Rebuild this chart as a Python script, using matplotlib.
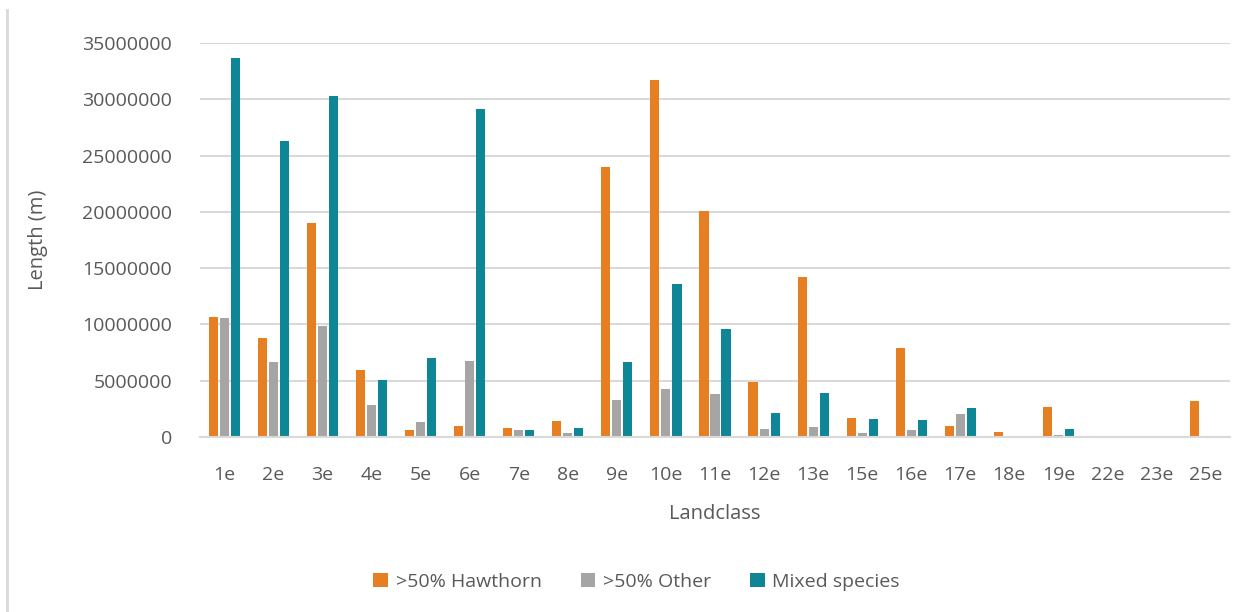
import matplotlib
matplotlib.use("Agg")
import matplotlib.pyplot as plt
import numpy as np
from matplotlib.lines import Line2D

categories = ["1e", "2e", "3e", "4e", "5e", "6e", "7e", "8e", "9e", "10e", "11e",
              "12e", "13e", "15e", "16e", "17e", "18e", "19e", "22e", "23e", "25e"]
hawthorn = [10.63e6, 8.77e6, 19.0e6, 5.92e6, 0.59e6, 0.95e6, 0.77e6, 1.39e6, 24.0e6, 31.7e6, 20.1e6,
            4.86e6, 14.25e6, 1.66e6, 7.88e6, 0.95e6, 0.41e6, 2.63e6, 0, 0, 3.17e6]
other = [10.54e6, 6.63e6, 9.83e6, 2.82e6, 1.30e6, 6.72e6, 0.59e6, 0.33e6, 3.26e6, 4.23e6, 3.79e6,
         0.68e6, 0.86e6, 0.33e6, 0.59e6, 2.02e6, 0.03e6, 0.15e6, 0, 0, 0.08e6]
mixed = [33.7e6, 26.3e6, 30.3e6, 5.03e6, 6.99e6, 29.1e6, 0.59e6, 0.77e6, 6.63e6, 13.56e6, 9.56e6,
         2.10e6, 3.88e6, 1.57e6, 1.48e6, 2.55e6, 0.08e6, 0.68e6, 0, 0, 0.04e6]
series_names = [">50% Hawthorn", ">50% Other", "Mixed species"]
colors = ["#E67F22", "#A5A5A5", "#0F8696"]
yticks = [0, 5000000, 10000000, 15000000, 20000000, 25000000, 30000000, 35000000]

plt.rcParams['font.family'] = ['Open Sans', 'DejaVu Sans']
fig = plt.figure(figsize=(12.58, 6.12), dpi=100)
ax = fig.add_axes([200/1258, 1-437/612, 1030/1258, (437-43)/612])

x = np.arange(len(categories))
w = 0.185
step = 0.225
for i, (vals, name, c) in enumerate(zip([hawthorn, other, mixed], series_names, colors)):
    ax.bar(x + (i-1)*step, vals, width=w, color=c, label=name, zorder=3)

ax.set_xlim(-0.5, len(categories)-0.5)
ax.set_ylim(0, 35000000)
ax.set_yticks(yticks)
ax.set_yticklabels([str(v) for v in yticks])
ax.set_xticks(x)
ax.set_xticklabels(categories)
ax.yaxis.grid(True, color="#D9D9D9", linewidth=1.5, zorder=0)
for s in ["top", "right", "left"]:
    ax.spines[s].set_visible(False)
ax.spines["bottom"].set_color("#D9D9D9")
ax.spines["bottom"].set_linewidth(1.5)
ax.spines["bottom"].set_zorder(4)
ax.tick_params(axis="both", length=0, labelsize=14, colors="#595959")
ax.tick_params(axis="x", pad=21)
ax.tick_params(axis="y", pad=20)
ax.set_xlabel("Landclass", fontsize=14.5, color="#595959", labelpad=14)
ax.set_ylabel("Length (m)", fontsize=14.5, color="#595959", labelpad=25)

leg = fig.legend(loc="center", bbox_to_anchor=(0.506, 1-582/612), ncol=3, frameon=False,
                 fontsize=14, handlelength=0.75, handleheight=0.75, handletextpad=0.4,
                 columnspacing=2.0)
for t in leg.get_texts():
    t.set_color("#595959")

fig.add_artist(Line2D([7/1258, 7/1258], [0, 1-10/612], transform=fig.transFigure,
                      color="#D9D9D9", linewidth=2))

fig.savefig("out.png", dpi=100)
